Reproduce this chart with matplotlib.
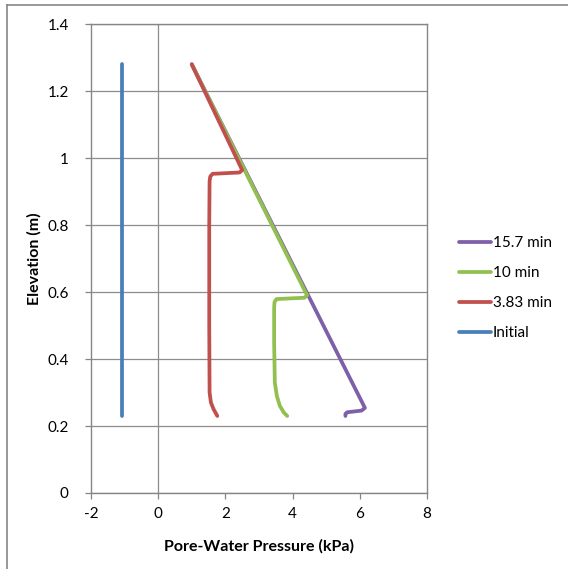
import matplotlib
matplotlib.use("Agg")
import matplotlib.pyplot as plt
from matplotlib.lines import Line2D

plt.rcParams["font.family"] = ["Lato", "DejaVu Sans"]
plt.rcParams["axes.unicode_minus"] = False

# Pore-water pressure profiles (kPa) vs elevation (m)
initial_x = [-1.07, -1.07]
initial_y = [0.23, 1.28]

min383_x = [1.00, 2.50, 2.42, 1.62, 1.55, 1.53, 1.52, 1.52, 1.53, 1.57, 1.65, 1.76]
min383_y = [1.28, 0.964, 0.957, 0.953, 0.945, 0.93, 0.80, 0.50, 0.30, 0.27, 0.25, 0.23]

min10_x = [1.00, 4.43, 4.35, 3.52, 3.46, 3.45, 3.45, 3.47, 3.53, 3.62, 3.74, 3.84]
min10_y = [1.28, 0.590, 0.583, 0.579, 0.570, 0.55, 0.45, 0.33, 0.29, 0.26, 0.24, 0.23]

min157_x = [1.00, 6.15, 6.05, 5.62, 5.57, 5.57]
min157_y = [1.28, 0.254, 0.246, 0.241, 0.236, 0.23]

series = [
    ("15.7 min", min157_x, min157_y, "#7f5fa8"),
    ("10 min", min10_x, min10_y, "#92c050"),
    ("3.83 min", min383_x, min383_y, "#c0504d"),
    ("Initial", initial_x, initial_y, "#4a7ebb"),
]

fig = plt.figure(figsize=(5.68, 5.69), dpi=100)
ax = fig.add_axes([0.160, 0.1336, 0.592, 0.824])

# purple first so green and red sit on top of it
for label, xs, ys, col in series:
    ax.plot(xs, ys, color=col, lw=2.7, solid_capstyle="round",
            solid_joinstyle="round", label=label)

ax.set_xlim(-2, 8)
ax.set_ylim(0, 1.4)
ax.set_xticks(range(-2, 9, 2))
ax.set_yticks([0, 0.2, 0.4, 0.6, 0.8, 1.0, 1.2, 1.4])
ax.set_yticklabels(["0", "0.2", "0.4", "0.6", "0.8", "1", "1.2", "1.4"])
ax.grid(axis="y", color="#8c8c8c", lw=0.9)
ax.axvline(0, color="#8c8c8c", lw=0.9, zorder=0.5)
ax.set_axisbelow(True)
for s in ax.spines.values():
    s.set_color("#868686")
    s.set_linewidth(1.0)
ax.tick_params(axis="both", direction="out", length=4, width=0.9,
               color="#868686", labelsize=11, labelcolor="black")
ax.tick_params(axis="x", pad=6)
ax.tick_params(axis="y", pad=12)

ax.set_xlabel("Pore-Water Pressure (kPa)", fontsize=11.5, fontweight="bold", labelpad=13)
ax.set_ylabel("Elevation (m)", fontsize=11.5, fontweight="bold", labelpad=4)

ax.legend(loc="center left", bbox_to_anchor=(1.055, 0.437), frameon=False,
          fontsize=11, handlelength=2.1, handletextpad=0.1, labelspacing=1.05)

# outer chart frame
fig.add_artist(Line2D([7 / 568, 7 / 568], [0, 1 - 5 / 569], color="#868686", lw=1.2))
fig.add_artist(Line2D([7 / 568, 1], [1 - 5 / 569, 1 - 5 / 569], color="#868686", lw=1.2))

fig.savefig("out.png", dpi=100)
